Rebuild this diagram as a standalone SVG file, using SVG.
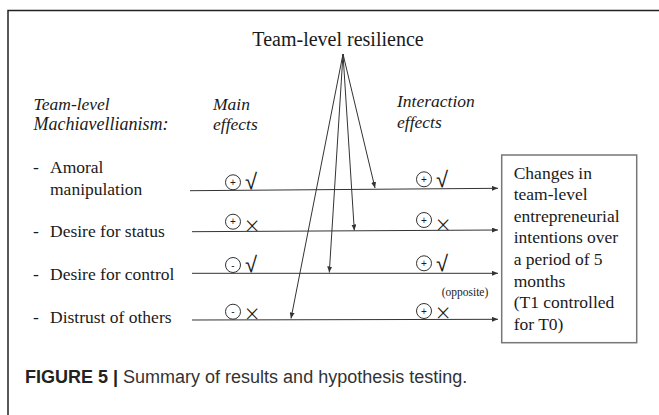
<svg xmlns="http://www.w3.org/2000/svg" width="659" height="415" viewBox="0 0 659 415">
<style>
.serif{font-family:"Liberation Serif","Times New Roman",serif;font-size:17.5px;fill:#1a1a1a}
.ital{font-style:italic}
.chk{font-family:"Liberation Sans",Arial,sans-serif;font-size:22px;fill:#1a1a1a}
.crs{font-family:"Open Sans","Liberation Sans",Arial,sans-serif;font-weight:300;font-size:25px;fill:#1a1a1a}
.pm{font-family:"Liberation Sans",Arial,sans-serif;font-size:10px;fill:#1a1a1a;text-anchor:middle}
.circ{fill:none;stroke:#333;stroke-width:1}
.ln{fill:none;stroke:#333;stroke-width:1}
.cap{font-family:"Liberation Sans",Arial,sans-serif;font-size:18px;fill:#333}
</style>
<defs>
<marker id="ah" markerUnits="userSpaceOnUse" markerWidth="6" markerHeight="5" refX="6" refY="2.5" orient="auto">
<path d="M0,0 L6,2.5 L0,5 z" fill="#333"/>
</marker>
</defs>
<rect width="659" height="415" fill="#fff"/>
<path d="M8,415 V10.5 H659" fill="none" stroke="#222" stroke-width="1.5"/>

<g id="resilience">
<text class="serif" x="338" y="45.5" text-anchor="middle" style="font-size:20px">Team-level resilience</text>
</g>

<g id="headers">
<text class="serif ital" x="33.6" y="110">Team-level</text>
<text class="serif ital" x="33.6" y="130" style="font-size:18px">Machiavellianism:</text>
<text class="serif ital" x="213" y="110">Main</text>
<text class="serif ital" x="213" y="130">effects</text>
<text class="serif ital" x="397" y="107">Interaction</text>
<text class="serif ital" x="397" y="128">effects</text>
</g>

<g id="row1">
<text class="serif" x="33" y="173.3">-</text>
<text class="serif" x="50" y="173.3">Amoral</text>
<text class="serif" x="50" y="194.5">manipulation</text>
</g>
<g id="row2">
<text class="serif" x="33" y="237.3">-</text>
<text class="serif" x="50" y="237.3">Desire for status</text>
</g>
<g id="row3">
<text class="serif" x="33" y="280">-</text>
<text class="serif" x="50" y="280">Desire for control</text>
</g>
<g id="row4">
<text class="serif" x="33" y="323.3">-</text>
<text class="serif" x="50" y="323.3">Distrust of others</text>
</g>

<g id="main-effects">
<circle class="circ" cx="233" cy="182.3" r="7.5"/><text class="pm" x="233" y="185.8">+</text><text class="chk" x="245" y="188.5">√</text>
<circle class="circ" cx="233" cy="221.7" r="7.5"/><text class="pm" x="233" y="225.2">+</text><text class="crs" x="245" y="235">×</text>
<circle class="circ" cx="233" cy="265" r="7.5"/><text class="pm" x="233" y="268.5">-</text><text class="chk" x="245" y="271.5">√</text>
<circle class="circ" cx="233" cy="311.7" r="7.5"/><text class="pm" x="233" y="315.2">-</text><text class="crs" x="245" y="322.5">×</text>
</g>

<g id="interaction-effects">
<circle class="circ" cx="424" cy="179.3" r="7.5"/><text class="pm" x="424" y="182.8">+</text><text class="chk" x="436" y="186.5">√</text>
<circle class="circ" cx="424" cy="220" r="7.5"/><text class="pm" x="424" y="223.5">+</text><text class="crs" x="436" y="233.5">×</text>
<circle class="circ" cx="424" cy="263.3" r="7.5"/><text class="pm" x="424" y="266.8">+</text><text class="chk" x="436" y="270.5">√</text>
<circle class="circ" cx="424" cy="311" r="7.5"/><text class="pm" x="424" y="314.5">+</text><text class="crs" x="436" y="322">×</text>
<text class="serif" x="465" y="295.5" text-anchor="middle" style="font-size:11.5px">(opposite)</text>
</g>

<g id="outcome">
<rect x="501.7" y="155" width="135" height="187.7" fill="#fff" stroke="#777" stroke-width="1.5"/>
<text class="serif" x="513.7" y="178.5">Changes in</text>
<text class="serif" x="513.7" y="200.1">team-level</text>
<text class="serif" x="513.7" y="221.7">entrepreneurial</text>
<text class="serif" x="513.7" y="243.3">intentions over</text>
<text class="serif" x="513.7" y="264.9">a period of 5</text>
<text class="serif" x="513.7" y="286.5">months</text>
<text class="serif" x="513.7" y="308.1">(T1 controlled</text>
<text class="serif" x="513.7" y="329.7">for T0)</text>
</g>

<g id="connectors">
<path class="ln" d="M190,190.7 L498,188.3" marker-end="url(#ah)"/>
<path class="ln" d="M192,231.7 L498,230" marker-end="url(#ah)"/>
<path class="ln" d="M192,273.3 L498,273.3" marker-end="url(#ah)"/>
<path class="ln" d="M192,320 L498,319.3" marker-end="url(#ah)"/>
<path class="ln" d="M343,54 L375,188" marker-end="url(#ah)"/>
<path class="ln" d="M343,54 L354.3,230.5" marker-end="url(#ah)"/>
<path class="ln" d="M343,54 L329.3,272.5" marker-end="url(#ah)"/>
<path class="ln" d="M343,54 L291,318.5" marker-end="url(#ah)"/>
</g>

<g id="caption">
<text class="cap" x="25" y="382.7"><tspan font-weight="bold" fill="#222">FIGURE 5 |</tspan> Summary of results and hypothesis testing.</text>
</g>
</svg>
